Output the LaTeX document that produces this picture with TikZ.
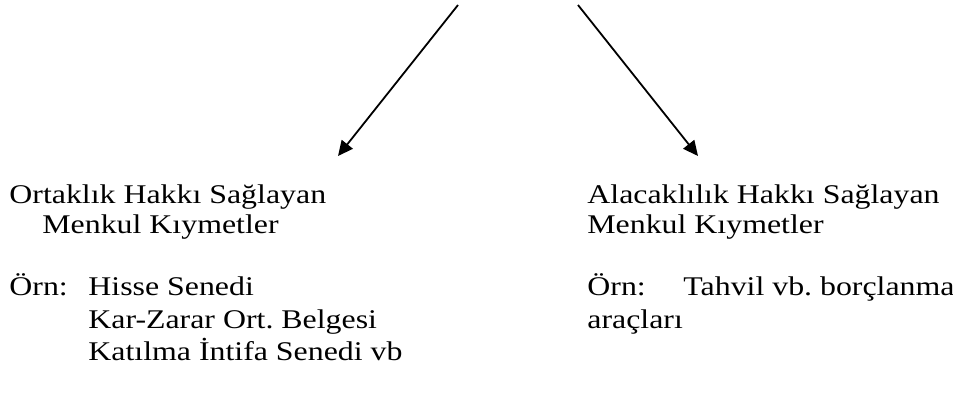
\documentclass[tikz,border=0pt]{standalone}
\usepackage{fontspec}
\setmainfont[FakeStretch=1.18]{Liberation Serif}
\frenchspacing
\usetikzlibrary{arrows.meta}
\tikzset{
  yazi/.style={anchor=base west, inner sep=0pt, font=\fontsize{13.5}{16}\selectfont},
  ok/.style={-{Triangle[length=7.5pt,width=7pt]}, line width=0.9pt}
}

\begin{document}
\begin{tikzpicture}[x=0.5pt,y=-0.5pt]
              \useasboundingbox (0,0) rectangle (953,408);
              \coordinate (ustL) at (458,5);
              \coordinate (ustR) at (578,5);
              \coordinate (ucL) at (338,156);
              \coordinate (ucR) at (698,156);
              \draw[ok] (ustL) -- (ucL);
              \draw[ok] (ustR) -- (ucR);
              % sol taraf
              \node (ortak) at (9,203) [yazi] {Ortaklık Hakkı Sağlayan};
              \node (ortakmk) at (42,233) [yazi] {Menkul Kıymetler};
              \node (ornL) at (9,295) [yazi] {Örn:};
              \node (hisse) at (88,295) [yazi] {Hisse Senedi};
              \node (karzarar) at (88,328) [yazi] {Kar-Zarar Ort. Belgesi};
              \node (katilma) at (88,360) [yazi] {Katılma İntifa Senedi vb};
              % sag taraf
              \node (alacak) at (587,203) [yazi] {Alacaklılık Hakkı Sağlayan};
              \node (alacakmk) at (587,233) [yazi] {Menkul Kıymetler};
              \node (ornR) at (587,295) [yazi] {Örn:};
              \node (tahvil) at (683,295) [yazi] {Tahvil vb. borçlanma};
              \node (araclar) at (587,328) [yazi] {araçları};
\end{tikzpicture}
\end{document}
